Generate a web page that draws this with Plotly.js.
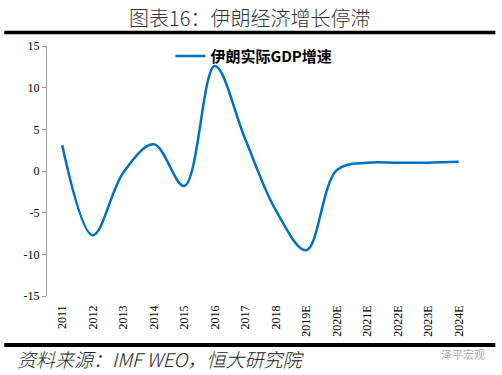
<!DOCTYPE html>
<html>
<head>
<meta charset="utf-8">
<script src="https://cdn.plot.ly/plotly-3.0.1.min.js"></script>
<style>
html,body{margin:0;padding:0;background:#fff;}
#chart{width:502px;height:375px;}
</style>
</head>
<body>
<div id="chart"></div>
<script>
var years = ['2011','2012','2013','2014','2015','2016','2017','2018','2019E','2020E','2021E','2022E','2023E','2024E'];
var gdpGrowth = [3.1, -7.7, -0.2, 3.2, -1.8, 12.6, 3.8, -4.7, -9.5, 0.1, 1.0, 1.0, 1.0, 1.1];
var seriesName = '伊朗实际GDP增速';
var yTicks = [-15, -10, -5, 0, 5, 10, 15];
var boundaryTicks = [-0.5,0.5,1.5,2.5,3.5,4.5,5.5,6.5,7.5,8.5,9.5,10.5,11.5,12.5,13.5];

var serif = '"Liberation Serif", "DejaVu Serif", serif';
var cjk = '"Noto Sans CJK SC", sans-serif';

var trace = {
  x: years,
  y: gdpGrowth,
  type: 'scatter',
  mode: 'lines',
  name: seriesName,
  line: {color: '#0070C0', width: 2.5, shape: 'spline', smoothing: 1},
  showlegend: true
};

var layout = {
  width: 502,
  height: 375,
  margin: {l: 47, r: 28, t: 46, b: 79},
  paper_bgcolor: '#fff',
  plot_bgcolor: '#fff',
  showlegend: true,
  legend: {
    x: 0.289, y: 1.025, xanchor: 'left', yanchor: 'top',
    bgcolor: 'rgba(0,0,0,0)',
    font: {family: cjk, size: 15, color: '#000', weight: 'bold'}
  },
  xaxis: {
    type: 'category',
    range: [-0.5, 13.5],
    showline: false,
    showgrid: false,
    zeroline: false,
    ticks: '',
    tickangle: -90,
    ticklabelstandoff: 6,
    tickfont: {family: serif, size: 12, color: '#000'},
    fixedrange: true
  },
  xaxis2: {
    overlaying: 'x',
    anchor: 'free',
    position: 0.5,
    side: 'bottom',
    range: [-0.5, 13.5],
    tickmode: 'array',
    tickvals: boundaryTicks,
    showticklabels: false,
    ticks: 'outside',
    ticklen: 4,
    tickcolor: '#9a9a9a',
    showline: true,
    linecolor: '#9a9a9a',
    linewidth: 1,
    showgrid: false,
    zeroline: false
  },
  yaxis: {
    range: [-15, 15],
    tickmode: 'array',
    tickvals: yTicks,
    ticktext: yTicks.map(String),
    ticks: 'outside',
    ticklen: 4,
    tickcolor: '#9a9a9a',
    showline: true,
    linecolor: '#9a9a9a',
    linewidth: 1,
    showgrid: false,
    zeroline: false,
    tickfont: {family: serif, size: 12, color: '#000'},
    fixedrange: true
  },
  shapes: [
    {type: 'line', xref: 'paper', yref: 'paper', x0: -0.1, x1: 1.05, y0: 1.054, y1: 1.054, line: {color: '#000', width: 3.5}},
    {type: 'line', xref: 'paper', yref: 'paper', x0: -0.1, x1: 1.05, y0: -0.196, y1: -0.196, line: {color: '#000', width: 4}}
  ],
  annotations: [
    {text: '图表16：伊朗经济增长停滞', xref: 'paper', yref: 'paper', x: 0.475, y: 1.112, xanchor: 'center', yanchor: 'middle',
     showarrow: false, font: {family: cjk, size: 20, color: '#333', weight: 300}},
    {text: '<i>资料来源：IMF WEO，恒大研究院</i>', xref: 'paper', yref: 'paper', x: -0.075, y: -0.248, xanchor: 'left', yanchor: 'middle',
     showarrow: false, font: {family: cjk, size: 19, color: '#222', weight: 300}},
    {text: '泽平宏观', xref: 'paper', yref: 'paper', x: 1.03, y: -0.232, xanchor: 'right', yanchor: 'middle',
     showarrow: false, font: {family: cjk, size: 11, color: '#aaa'}}
  ]
};

Plotly.newPlot('chart', [trace], layout, {displayModeBar: false, staticPlot: true});
</script>
</body>
</html>
